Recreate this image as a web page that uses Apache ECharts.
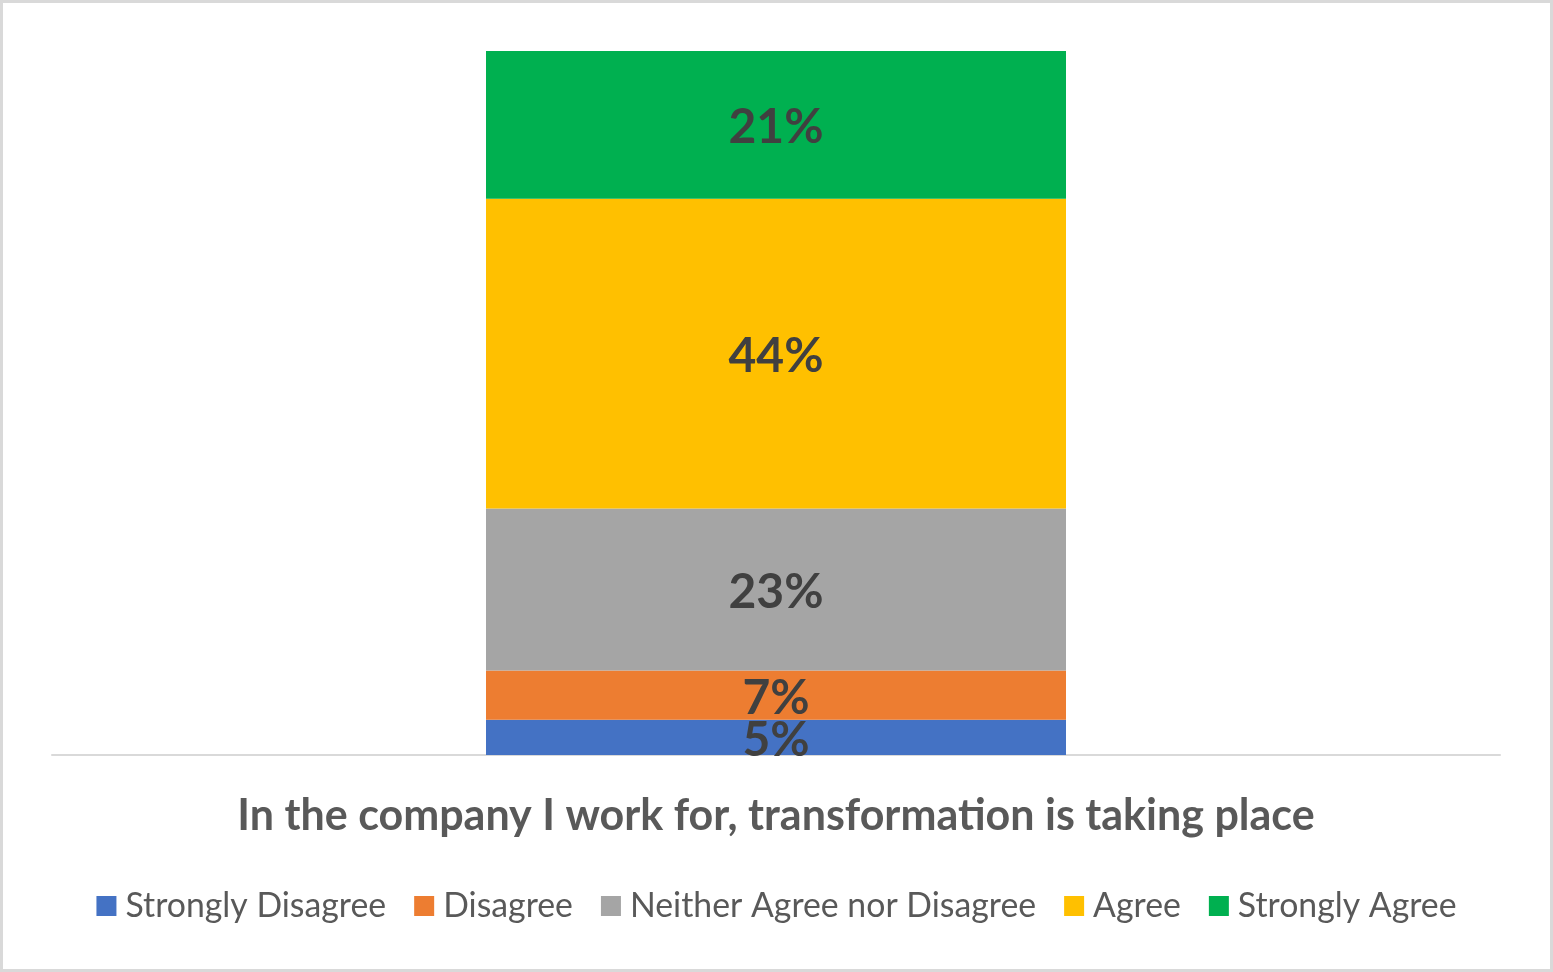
<!DOCTYPE html>
<html>
<head>
<meta charset="utf-8">
<script src="https://cdn.jsdelivr.net/npm/echarts@6/dist/echarts.min.js"></script>
<style>
  html, body { margin: 0; padding: 0; background: #fff; }
  #chart { width: 1553px; height: 972px; box-sizing: border-box; border: 3px solid #d9d9d9; }
</style>
</head>
<body>
<div id="chart"></div>
<script>
// data
const categories = ['In the company I work for, transformation is taking place'];
const seriesNames = ['Strongly Disagree', 'Disagree', 'Neither Agree nor Disagree', 'Agree', 'Strongly Agree'];
const seriesValues = [[5], [7], [23], [44], [21]];
const colors = ['#4472c4', '#ed7d31', '#a5a5a5', '#ffc000', '#00b050'];

const chart = echarts.init(document.getElementById('chart'));
const font = 'Lato, "Open Sans", sans-serif';

chart.setOption({
  color: colors,
  animation: false,
  textStyle: { fontFamily: font },
  grid: { left: 49, right: 50, top: 48, bottom: 214 },
  legend: {
    bottom: 41,
    left: 'center',
    itemWidth: 20,
    itemHeight: 20,
    itemGap: 28,
    icon: 'rect',
    textStyle: { fontSize: 33.8, color: '#595959', fontFamily: font, padding: [0, 0, 0, 4] },
    data: seriesNames
  },
  xAxis: {
    type: 'category',
    data: categories,
    axisLine: { lineStyle: { color: '#d9d9d9', width: 2 } },
    axisTick: { show: false },
    axisLabel: { fontSize: 43, fontWeight: 'bold', color: '#595959', margin: 40, fontFamily: font }
  },
  yAxis: {
    type: 'value',
    min: 0,
    max: 100,
    show: false
  },
  series: seriesNames.map((name, i) => ({
    name: name,
    type: 'bar',
    stack: 'total',
    barWidth: 580,
    data: seriesValues[i],
    label: {
      show: true,
      position: 'inside',
      offset: [0, 3],
      formatter: p => p.value + '%',
      fontSize: 48,
      fontWeight: 'bold',
      color: '#404040',
      fontFamily: font
    }
  }))
});
</script>
</body>
</html>
